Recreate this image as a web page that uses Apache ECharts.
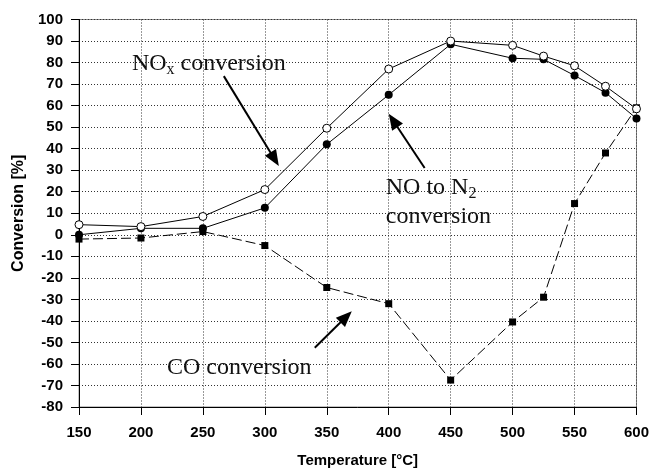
<!DOCTYPE html>
<html>
<head>
<meta charset="utf-8">
<script src="https://cdn.jsdelivr.net/npm/echarts@6/dist/echarts.min.js"></script>
<style>
  html, body { margin: 0; padding: 0; background: #fff; }
  #chart { width: 652px; height: 473px; }
</style>
</head>
<body>
<div id="chart"></div>
<script>
// Temperatures (°C) at which conversions were measured
const temperatures = [150, 200, 250, 300, 350, 400, 450, 500, 525, 550, 575, 600];
// Conversion values (%)
const noxConversion = [4.7, 3.8, 8.5, 21, 49.5, 77, 90, 88, 83, 78.5, 69, 58.5];
const noToN2Conversion = [0, 3, 3, 12.5, 42, 65, 88.5, 82, 81.5, 74, 66, 54];
const coConversion = [-2, -1.5, 1.5, -5, -24.5, -32, -67.5, -40.5, -29, 14.5, 38, 59];

// Axis ranges
const xRange = { min: 150, max: 600, step: 50 };
const yRange = { min: -80, max: 100, step: 10 };

// Annotation anchors, in data units (temperature, conversion)
const annotations = [
  { parts: [['NO', false], ['x', true], [' conversion', false]], at: [192.7, 79.6],
    arrow: [[266.9, 73.7], [311.3, 31.9]] },
  { parts: [['NO to N', false], ['2', true]], at: [397.6, 21.8],
    arrow: [[429, 31], [400, 56.2]] },
  { parts: [['conversion', false]], at: [397.6, 8.5] },
  { parts: [['CO conversion', false]], at: [221, -61.6],
    arrow: [[340.3, -52.5], [370.2, -35.5]] }
];

const pairs = vals => temperatures.map((t, i) => [t, vals[i]]);

const chart = echarts.init(document.getElementById('chart'));

const sansBold = size => ({ fontFamily: 'Liberation Sans, Arial', fontWeight: 'bold', fontSize: size, color: '#000' });
const gridDots = { show: true, lineStyle: { color: '#333', type: [1, 2], width: 1 } };

chart.setOption({
  animation: false,
  backgroundColor: '#fff',
  grid: { left: 79, right: 15, top: 19.5, bottom: 61, show: true, borderColor: '#888', borderWidth: 1 },
  xAxis: {
    type: 'value', min: xRange.min, max: xRange.max, interval: xRange.step,
    name: 'Temperature [°C]', nameLocation: 'middle', nameGap: 46,
    nameTextStyle: sansBold(15),
    axisLine: { show: true, onZero: false, lineStyle: { color: '#000', width: 1 } },
    axisTick: { show: true, length: 8, lineStyle: { color: '#000' } },
    axisLabel: Object.assign({ margin: 18 }, sansBold(15)),
    splitLine: gridDots
  },
  yAxis: {
    type: 'value', min: yRange.min, max: yRange.max, interval: yRange.step,
    name: 'Conversion [%]', nameLocation: 'middle', nameGap: 51,
    nameTextStyle: sansBold(16),
    axisLine: { show: true, onZero: false, lineStyle: { color: '#000', width: 1 } },
    axisTick: { show: true, length: 8, lineStyle: { color: '#000' } },
    axisLabel: Object.assign({ margin: 16 }, sansBold(15)),
    splitLine: gridDots
  },
  series: [
    {
      name: 'CO conversion', type: 'line', data: pairs(coConversion),
      symbol: 'rect', symbolSize: 7, z: 2,
      itemStyle: { color: '#000' },
      lineStyle: { color: '#000', width: 1, type: [10, 4] }
    },
    {
      name: 'NO to N2 conversion', type: 'line', data: pairs(noToN2Conversion),
      symbol: 'circle', symbolSize: 8, z: 3,
      itemStyle: { color: '#000' },
      lineStyle: { color: '#000', width: 1 }
    },
    {
      name: 'NOx conversion', type: 'line', data: pairs(noxConversion),
      symbol: 'circle', symbolSize: 8, z: 4,
      itemStyle: { color: '#fff', borderColor: '#000', borderWidth: 1 },
      lineStyle: { color: '#000', width: 1 }
    }
  ]
});

// Serif callout text and arrows, placed through the chart's own coordinate system
const ctx = document.createElement('canvas').getContext('2d');
const serif = 'Liberation Serif, Times New Roman';
const mainSize = 24, subSize = 16;
const graphics = [];
annotations.forEach(a => {
  const p = chart.convertToPixel({ gridIndex: 0 }, a.at);
  let x = p[0];
  a.parts.forEach(([txt, sub]) => {
    const size = sub ? subSize : mainSize;
    ctx.font = size + 'px ' + serif;
    graphics.push({
      type: 'text', x: x, y: p[1] + (sub ? 6 : 0), z: 10,
      style: { text: txt, font: size + 'px ' + serif, fill: '#111', verticalAlign: 'middle', align: 'left' }
    });
    x += ctx.measureText(txt).width;
  });
  if (a.arrow) {
    const s = chart.convertToPixel({ gridIndex: 0 }, a.arrow[0]);
    const e = chart.convertToPixel({ gridIndex: 0 }, a.arrow[1]);
    const dx = e[0] - s[0], dy = e[1] - s[1];
    const len = Math.hypot(dx, dy), ux = dx / len, uy = dy / len;
    const headLen = 16, headHalf = 6.5;
    const bx = e[0] - ux * headLen, by = e[1] - uy * headLen;
    graphics.push({
      type: 'line', z: 10,
      shape: { x1: s[0], y1: s[1], x2: bx + ux * 2, y2: by + uy * 2 },
      style: { stroke: '#000', lineWidth: 2 }
    });
    graphics.push({
      type: 'polygon', z: 10,
      shape: { points: [[e[0], e[1]], [bx - uy * headHalf, by + ux * headHalf], [bx + uy * headHalf, by - ux * headHalf]] },
      style: { fill: '#000' }
    });
  }
});
chart.setOption({ graphic: graphics });
</script>
</body>
</html>
